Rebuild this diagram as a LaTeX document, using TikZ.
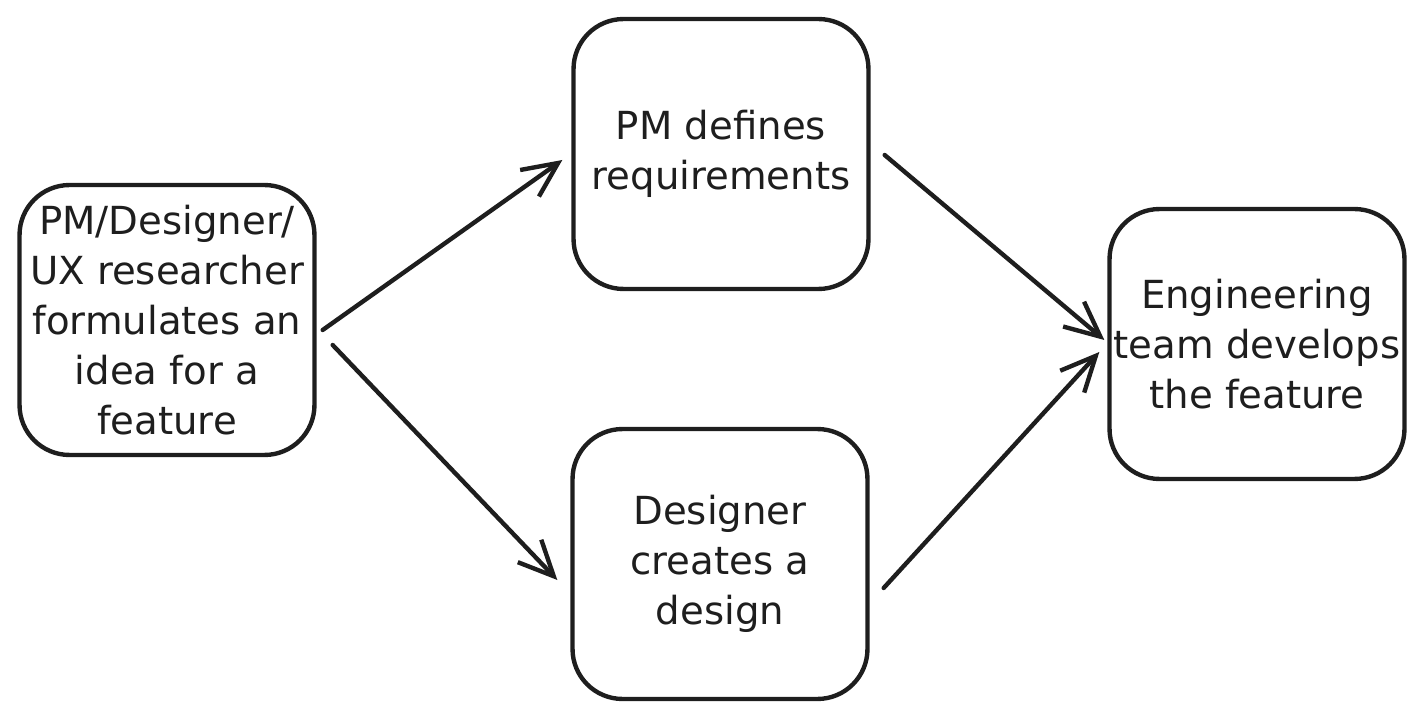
\documentclass[tikz,border=0pt]{standalone}
\usepackage{fontspec}
\setmainfont{DejaVu Sans}
\usepackage{xcolor}
\usepackage{tikz}
\usetikzlibrary{arrows.meta, positioning}
\definecolor{inkblack}{HTML}{1E1E1E}

\begin{document}
\begin{tikzpicture}[
  x=0.02cm, y=-0.02cm,
  every node/.style={font=\fontsize{22}{28.5}\selectfont, align=center, text=inkblack},
  box/.style={draw=inkblack, line width=2.5pt, rounded corners=1cm,
              minimum width=5.9cm, minimum height=5.4cm, inner sep=0pt},
  arr/.style={-{Straight Barb[length=0.7cm, width=0.65cm, line width=2.5pt]},
              draw=inkblack, line width=2.5pt, line cap=round}
]
\useasboundingbox (0,0) rectangle (1423,719);
\node[box] (idea)   at (167,320)  {PM/Designer/\\UX researcher\\formulates an\\idea for a\\feature};
\node[box] (reqs)   at (721,154)  {PM defines\\requirements};
\node[box] (design) at (720,564)  {Designer\\creates a\\design};
\node[box] (build)  at (1257,344) {Engineering\\team develops\\the feature};
\draw[arr] ([shift={(6,10)}]idea.east)   -- ([shift={(-9,6)}]reqs.west);
\draw[arr] ([shift={(16,25)}]idea.east)  -- ([shift={(-13,16)}]design.west);
\draw[arr] ([shift={(14,1)}]reqs.east)   -- ([shift={(-3,-4)}]build.west);
\draw[arr] ([shift={(14,24)}]design.east) -- ([shift={(-8,8)}]build.west);
\end{tikzpicture}
\end{document}
